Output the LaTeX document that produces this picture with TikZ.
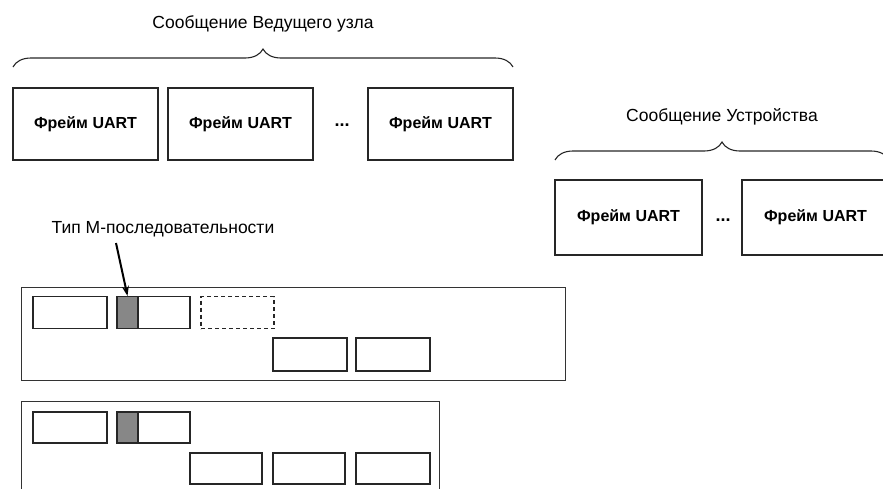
\documentclass[tikz,border=0pt]{standalone}
\usepackage{fontspec}
\setmainfont{Liberation Sans}
\usetikzlibrary{decorations.pathreplacing,arrows.meta}
\begin{document}
\begin{tikzpicture}[x=1pt,y=-1pt,
  frame/.style={draw=black!85,line width=1.1pt,inner sep=0pt,minimum width=145pt,minimum height=72pt,font=\fontsize{16}{18}\selectfont\bfseries},
  cell/.style={draw=black!85,line width=1.1pt,inner sep=0pt,minimum height=32pt},
  outer/.style={draw=black!80,line width=1pt},
  ttl/.style={font=\fontsize{17.5}{20}\selectfont},
  dots/.style={font=\fontsize{18}{20}\selectfont\bfseries},
  brc/.style={decorate,decoration={brace,amplitude=18pt,aspect=0.5},line width=1.1pt,draw=black!85}]
\useasboundingbox (0,0) rectangle (883,488);
\clip (0,0) rectangle (883,488);
% master message
\node[ttl] (t1) at (263,24) {Сообщение Ведущего узла};
\coordinate (b1l) at (13,67);
\coordinate (b1r) at (513,67);
\draw[brc] (b1l) -- (b1r);
\node[frame] (m1) at (85.5,124) {Фрейм UART};
\node[frame] (m2) at (240.5,124) {Фрейм UART};
\node[dots] (md) at (342,125) {...};
\node[frame] (m3) at (440.5,124) {Фрейм UART};
% device message
\node[ttl] (t2) at (722,117) {Сообщение Устройства};
\coordinate (b2l) at (555,160);
\coordinate (b2r) at (889,160);
\draw[brc] (b2l) -- (b2r);
\node[frame,minimum width=147pt,minimum height=75pt] (d1) at (628.5,217.5) {Фрейм UART};
\node[dots] (dd) at (723,220) {...};
\node[frame,minimum width=147pt,minimum height=75pt] (d2) at (815.5,217.5) {Фрейм UART};
% M-sequence label
\node[ttl] (lab) at (163,229) {Тип М-последовательности};
\coordinate (as) at (116,243);
% first sequence
\node[outer,minimum width=544pt,minimum height=93pt,inner sep=0pt] (r1) at (293,333.5) {};
\node[cell,minimum width=74pt] (a1) at (70,312.5) {};
\node[cell,minimum width=21pt,fill=black!47] (g1) at (127.5,312.5) {};
\node[cell,minimum width=52pt] (w1) at (164,312.5) {};
\node[cell,minimum width=73pt,dash pattern=on 4pt off 3pt] (s1) at (237.5,312.5) {};
\node[cell,minimum width=74pt,minimum height=33pt] (p1) at (310,354.5) {};
\node[cell,minimum width=74pt,minimum height=33pt] (q1) at (393,354.5) {};
\draw[line width=2pt,-{Stealth[length=10pt,width=7pt]}] (as) -- (g1.north);
% second sequence
\node[outer,minimum width=418pt,minimum height=110pt,inner sep=0pt] (r2) at (230,456) {};
\node[cell,minimum width=74pt,minimum height=31pt] (a2) at (70,427.5) {};
\node[cell,minimum width=21pt,minimum height=31pt,fill=black!47] (g2) at (127.5,427.5) {};
\node[cell,minimum width=52pt,minimum height=31pt] (w2) at (164,427.5) {};
\node[cell,minimum width=72pt,minimum height=31pt] (p2) at (226,468.5) {};
\node[cell,minimum width=72pt,minimum height=31pt] (q2) at (309,468.5) {};
\node[cell,minimum width=74pt,minimum height=31pt] (u2) at (393,468.5) {};
\end{tikzpicture}
\end{document}
